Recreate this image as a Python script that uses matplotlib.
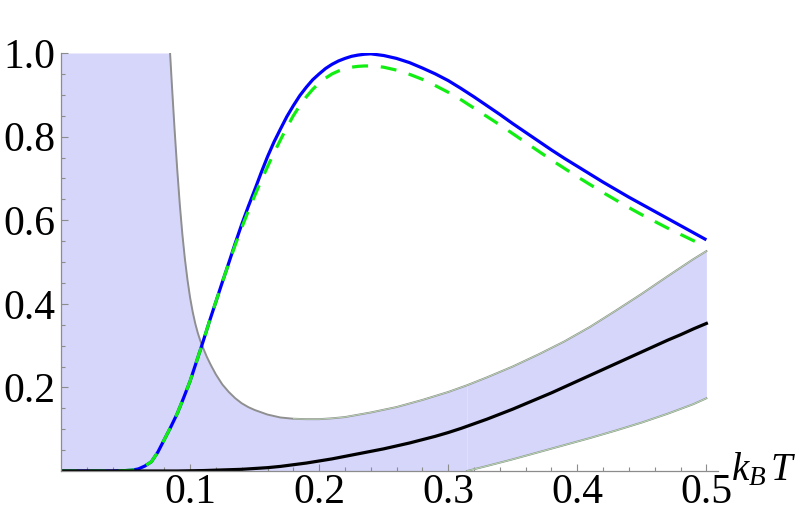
import matplotlib
matplotlib.use('Agg')
import matplotlib.pyplot as plt

plt.rcParams['font.family'] = 'serif'
plt.rcParams['font.serif'] = ['Liberation Serif', 'Times New Roman', 'DejaVu Serif']
plt.rcParams['mathtext.fontset'] = 'custom'
plt.rcParams['mathtext.rm'] = 'Liberation Serif'
plt.rcParams['mathtext.it'] = 'Liberation Serif:italic'

# ---- data ----
T = [0.00, 0.01, 0.02, 0.03, 0.04,
     0.050, 0.055, 0.060, 0.065, 0.070, 0.075, 0.080, 0.085, 0.090, 0.095,
     0.100, 0.105, 0.110, 0.115, 0.120, 0.125, 0.130, 0.135, 0.140, 0.145,
     0.150, 0.155, 0.160, 0.165, 0.170, 0.175, 0.180, 0.185, 0.190, 0.195,
     0.200, 0.205, 0.210, 0.215, 0.220, 0.225, 0.230, 0.235, 0.240, 0.245,
     0.25, 0.26, 0.27, 0.28, 0.29, 0.30, 0.31, 0.32, 0.33, 0.34, 0.35, 0.36,
     0.37, 0.38, 0.39, 0.40, 0.41, 0.42, 0.43, 0.44, 0.45, 0.46, 0.47, 0.48,
     0.49, 0.50]

blue = [0.000, 0.000, 0.000, 0.000, 0.000,
        0.001, 0.002, 0.005, 0.012, 0.022, 0.045, 0.075, 0.105, 0.137, 0.175,
        0.215, 0.262, 0.309, 0.358, 0.405, 0.452, 0.498, 0.545, 0.590, 0.632,
        0.672, 0.713, 0.752, 0.787, 0.818, 0.848, 0.874, 0.898, 0.918, 0.936,
        0.950, 0.963, 0.973, 0.981, 0.987, 0.992, 0.995, 0.997, 0.998, 0.996,
        0.994, 0.987, 0.977, 0.964, 0.950, 0.934, 0.915, 0.895, 0.874, 0.853,
        0.831, 0.810, 0.789, 0.768, 0.748, 0.729, 0.710, 0.691, 0.673, 0.655,
        0.638, 0.621, 0.604, 0.587, 0.570, 0.553]

green = [0.000, 0.000, 0.000, 0.000, 0.000,
         0.001, 0.002, 0.005, 0.012, 0.022, 0.045, 0.075, 0.105, 0.137, 0.175,
         0.215, 0.262, 0.309, 0.358, 0.405, 0.452, 0.497, 0.541, 0.582, 0.621,
         0.658, 0.694, 0.728, 0.761, 0.792, 0.822, 0.850, 0.874, 0.895, 0.913,
         0.928, 0.940, 0.950, 0.957, 0.962, 0.966, 0.968, 0.969, 0.969, 0.968,
         0.966, 0.959, 0.949, 0.937, 0.922, 0.906, 0.888, 0.868, 0.848, 0.828,
         0.807, 0.786, 0.765, 0.744, 0.724, 0.704, 0.685, 0.666, 0.648, 0.630,
         0.613, 0.597, 0.581, 0.566, 0.551, 0.537]

black_T = [0.00, 0.01, 0.02, 0.03, 0.04, 0.05, 0.06, 0.07, 0.08, 0.09,
           0.10, 0.11, 0.12, 0.13, 0.14, 0.15, 0.16, 0.17, 0.18, 0.19,
           0.20, 0.21, 0.22, 0.23, 0.24, 0.25, 0.26, 0.27, 0.28, 0.29,
           0.30, 0.31, 0.32, 0.33, 0.34, 0.35, 0.36, 0.37, 0.38, 0.39,
           0.40, 0.41, 0.42, 0.43, 0.44, 0.45, 0.46, 0.47, 0.48, 0.49, 0.50]
black = [0.000, 0.000, 0.000, 0.000, 0.000, 0.000, 0.000, 0.000, 0.000, 0.000,
         0.0005, 0.001, 0.002, 0.003, 0.004, 0.006, 0.008, 0.011, 0.015, 0.019,
         0.024, 0.029, 0.035, 0.041, 0.047, 0.053, 0.060, 0.067, 0.075, 0.083,
         0.092, 0.102, 0.113, 0.124, 0.136, 0.148, 0.161, 0.174, 0.187, 0.201,
         0.215, 0.229, 0.243, 0.257, 0.271, 0.285, 0.299, 0.313, 0.326, 0.340, 0.353]

band_T = [0.000, 0.0845, 0.086, 0.088, 0.090, 0.092, 0.094, 0.096, 0.098, 0.100,
          0.102, 0.104, 0.106, 0.108, 0.110, 0.113, 0.116, 0.120, 0.125, 0.130,
          0.135, 0.140, 0.145, 0.150, 0.160, 0.170, 0.180, 0.190, 0.200, 0.210,
          0.220, 0.240, 0.260, 0.280, 0.300, 0.3145, 0.330, 0.350, 0.370, 0.390,
          0.410, 0.430, 0.450, 0.470, 0.490, 0.500]
band_hi = [1.000, 1.000, 0.919, 0.817, 0.723, 0.639, 0.567, 0.507, 0.457, 0.415,
           0.381, 0.353, 0.330, 0.311, 0.295, 0.273, 0.254, 0.231, 0.207, 0.189,
           0.174, 0.162, 0.153, 0.146, 0.135, 0.128, 0.125, 0.124, 0.124, 0.126,
           0.129, 0.140, 0.153, 0.170, 0.189, 0.205, 0.224, 0.250, 0.279, 0.310,
           0.345, 0.384, 0.424, 0.466, 0.507, 0.526]
band_lo = [0.0] * 35 + [0.000, 0.012, 0.028, 0.045, 0.062, 0.079, 0.097, 0.116,
                        0.137, 0.160, 0.174]

x_major = [0.1, 0.2, 0.3, 0.4, 0.5]
y_major = [0.2, 0.4, 0.6, 0.8, 1.0]

# ---- figure ----
W, H = 809, 521
fig = plt.figure(figsize=(W / 100, H / 100), dpi=100)
ax = fig.add_axes([61 / W, 50 / H, (718 - 61) / W, (471 - 53) / H])
ax.set_xlim(0, 0.509)
ax.set_ylim(0, 1.0)

fill_c = '#d6d6fb'
k = band_T.index(0.3145)
ax.fill_between(band_T[:k + 1], band_lo[:k + 1], band_hi[:k + 1], color=fill_c, lw=0, zorder=1)
ax.fill_between(band_T[k:], band_lo[k:], band_hi[k:], color=fill_c, lw=0, zorder=1)

i0 = band_T.index(0.0845)
ax.plot(band_T[i0:], band_hi[i0:], color='#8f8f8f', lw=1.4, zorder=2)
i1 = band_T.index(0.180)
ax.plot(band_T[i1:], band_hi[i1:], color='#c4e8bc', lw=0.5, zorder=2)
ax.plot(band_T[k:], band_lo[k:], color='#8f9a8f', lw=1.4, zorder=2)
ax.plot(band_T[k:], band_lo[k:], color='#c4e8bc', lw=0.5, zorder=2)

ax.plot(T, blue, color='#0000ff', lw=2.3, zorder=3, solid_capstyle='butt')
ax.plot(T, green, color='#11ee11', lw=2.3, zorder=4, dashes=(5.0, 4.0), dash_capstyle='butt')
ax.plot(black_T, black, color='black', lw=2.3, zorder=5)

for s in ['top', 'right']:
    ax.spines[s].set_visible(False)
for s in ['left', 'bottom']:
    ax.spines[s].set_color('#8c8c8c')
    ax.spines[s].set_linewidth(0.9)
    ax.spines[s].set_zorder(6)

ax.set_xticks(x_major)
ax.set_xticklabels(['0.1', '0.2', '0.3', '0.4', '0.5'])
ax.set_xticks([0.02 * i for i in range(1, 26) if i % 5 != 0], minor=True)
ax.set_yticks(y_major)
ax.set_yticklabels(['0.2', '0.4', '0.6', '0.8', '1.0'])
ax.set_yticks([0.05 * i for i in range(1, 20) if i % 4 != 0], minor=True)

ax.tick_params(which='both', direction='in', color='#8c8c8c', width=0.8, labelsize=30,
               labelcolor='black')
ax.tick_params(which='major', length=5)
ax.tick_params(which='minor', length=2.6)
ax.tick_params(axis='x', which='major', pad=1.5)
ax.tick_params(axis='y', which='major', pad=4)

fig.text(731 / W, 1 - 480 / H, r'$k_B\,T$', fontsize=28, ha='left', va='baseline')

fig.savefig('out.png', dpi=100)
